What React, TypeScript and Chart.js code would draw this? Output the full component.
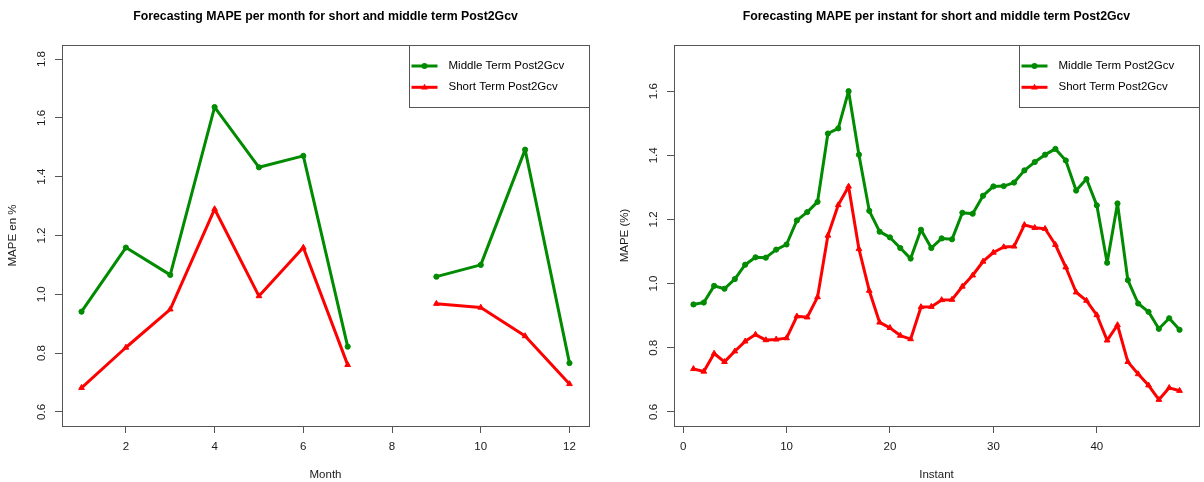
import React, { useEffect, useRef } from "react";
import { Chart, registerables } from "chart.js";

Chart.register(...registerables);

// ---------- data ----------
const months = [1, 2, 3, 4, 5, 6, 7, 8, 9, 10, 11, 12];
const monthMiddle = [0.941, 1.159, 1.066, 1.637, 1.432, 1.471, 0.822, null, 1.06, 1.1, 1.492, 0.766];
const monthShort = [0.682, 0.819, 0.949, 1.29, 0.994, 1.159, 0.76, null, 0.968, 0.955, 0.858, 0.695];
const monthXTicks = [2, 4, 6, 8, 10, 12];
const monthYTicks = [0.6, 0.8, 1.0, 1.2, 1.4, 1.6, 1.8];
const monthXRange = [0.56, 12.44];
const monthYRange = [0.552, 1.848];

const instants = [
  1, 2, 3, 4, 5, 6, 7, 8, 9, 10, 11, 12, 13, 14, 15, 16, 17, 18, 19, 20, 21, 22, 23, 24,
  25, 26, 27, 28, 29, 30, 31, 32, 33, 34, 35, 36, 37, 38, 39, 40, 41, 42, 43, 44, 45, 46, 47, 48,
];
const instantMiddle = [
  0.935, 0.941, 0.993, 0.984, 1.014, 1.059, 1.082, 1.081, 1.106, 1.122,
  1.197, 1.223, 1.255, 1.468, 1.484, 1.6, 1.402, 1.227, 1.162, 1.144,
  1.111, 1.078, 1.168, 1.111, 1.141, 1.138, 1.221, 1.218, 1.274, 1.303,
  1.304, 1.315, 1.353, 1.379, 1.402, 1.42, 1.384, 1.29, 1.326, 1.244,
  1.065, 1.25, 1.011, 0.938, 0.912, 0.859, 0.892, 0.856,
];
const instantShort = [
  0.734, 0.726, 0.782, 0.756, 0.789, 0.82, 0.841, 0.824, 0.826, 0.83,
  0.898, 0.895, 0.958, 1.15, 1.245, 1.303, 1.108, 0.978, 0.879, 0.862,
  0.838, 0.827, 0.927, 0.928, 0.949, 0.95, 0.991, 1.026, 1.069, 1.097,
  1.114, 1.116, 1.183, 1.174, 1.171, 1.121, 1.051, 0.973, 0.947, 0.902,
  0.823, 0.871, 0.756, 0.718, 0.683, 0.638, 0.675, 0.666,
];
const instantXTicks = [0, 10, 20, 30, 40];
const instantYTicks = [0.6, 0.8, 1.0, 1.2, 1.4, 1.6];
const instantXRange = [-0.88, 49.88];
const instantYRange = [0.556, 1.744];

const seriesLabels = ["Middle Term Post2Gcv", "Short Term Post2Gcv"];
const seriesColors = ["#008b00", "#ff0000"];

// ---------- styling ----------
const FONT = "'Liberation Sans', Arial, Helvetica, sans-serif";
const AXIS = "#555555";
const TEXT = "#1a1a1a";

const boxPlugin = {
  id: "rBox",
  afterDraw(chart: any) {
    const { ctx, chartArea: a } = chart;
    ctx.save();
    ctx.strokeStyle = AXIS;
    ctx.lineWidth = 1;
    ctx.strokeRect(Math.round(a.left) + 0.5, Math.round(a.top) + 0.5, Math.round(a.right - a.left), Math.round(a.bottom - a.top));
    ctx.restore();
  },
};

const titlePlugin = {
  id: "rTitle",
  afterDraw(chart: any, _args: any, opts: any) {
    const { ctx, chartArea: a } = chart;
    ctx.save();
    ctx.fillStyle = "#000";
    ctx.font = `bold 12.3px ${FONT}`;
    ctx.textAlign = "center";
    ctx.textBaseline = "middle";
    ctx.fillText(opts.text, (a.left + a.right) / 2, 17);
    ctx.restore();
  },
};

const legendPlugin = {
  id: "rLegend",
  afterDraw(chart: any) {
    const { ctx, chartArea: a } = chart;
    const w = 180;
    const h = 62;
    const x0 = Math.round(a.right - w);
    const y0 = Math.round(a.top);
    ctx.save();
    ctx.fillStyle = "#fff";
    ctx.fillRect(x0, y0, w, h);
    ctx.strokeStyle = AXIS;
    ctx.lineWidth = 1;
    ctx.strokeRect(x0 + 0.5, y0 + 0.5, w, h);
    chart.data.datasets.forEach((ds: any, i: number) => {
      const yc = y0 + 21 + i * 21.3;
      ctx.strokeStyle = ds.borderColor;
      ctx.fillStyle = ds.borderColor;
      ctx.lineWidth = 3;
      ctx.beginPath();
      ctx.moveTo(x0 + 2.5, yc);
      ctx.lineTo(x0 + 28.5, yc);
      ctx.stroke();
      const cx = x0 + 15.5;
      ctx.beginPath();
      if (ds.pointStyle === "triangle") {
        const r = 3.5;
        ctx.moveTo(cx, yc - r);
        ctx.lineTo(cx + r * 0.95, yc + r * 0.6);
        ctx.lineTo(cx - r * 0.95, yc + r * 0.6);
        ctx.closePath();
      } else {
        ctx.arc(cx, yc, 3, 0, Math.PI * 2);
      }
      ctx.fill();
      ctx.fillStyle = "#000";
      ctx.font = `11.5px ${FONT}`;
      ctx.textAlign = "left";
      ctx.textBaseline = "middle";
      ctx.fillText(ds.label, x0 + 39.5, yc);
    });
    ctx.restore();
  },
};

function makeConfig(p: {
  xs: number[];
  mid: (number | null)[];
  short: (number | null)[];
  xRange: number[];
  yRange: number[];
  xTicks: number[];
  yTicks: number[];
  title: string;
  xTitle: string;
  yTitle: string;
  yWidth: number;
  rightPad: number;
  yTitlePad: number;
}): any {
  const pts = (vals: (number | null)[]) => p.xs.map((x, i) => ({ x, y: vals[i] }));
  return {
    type: "line",
    data: {
      datasets: [
        {
          label: seriesLabels[0],
          data: pts(p.mid),
          borderColor: seriesColors[0],
          backgroundColor: seriesColors[0],
          borderWidth: 3,
          borderJoinStyle: "round",
          borderCapStyle: "round",
          pointStyle: "circle",
          pointRadius: 2.6,
          pointBorderWidth: 1,
          pointBackgroundColor: seriesColors[0],
          pointBorderColor: seriesColors[0],
          spanGaps: false,
          tension: 0,
        },
        {
          label: seriesLabels[1],
          data: pts(p.short),
          borderColor: seriesColors[1],
          backgroundColor: seriesColors[1],
          borderWidth: 3,
          borderJoinStyle: "round",
          borderCapStyle: "round",
          pointStyle: "triangle",
          pointRadius: 3.3,
          pointBorderWidth: 1,
          pointBackgroundColor: seriesColors[1],
          pointBorderColor: seriesColors[1],
          spanGaps: false,
          tension: 0,
        },
      ],
    },
    options: {
      responsive: false,
      animation: false,
      devicePixelRatio: 1,
      layout: { padding: { left: 0, right: p.rightPad, top: 45, bottom: 0 } },
      plugins: {
        legend: { display: false },
        tooltip: { enabled: false },
        title: { display: false },
        rTitle: { text: p.title },
      },
      scales: {
        x: {
          type: "linear",
          min: p.xRange[0],
          max: p.xRange[1],
          afterBuildTicks: (axis: any) => {
            axis.ticks = p.xTicks.map((v) => ({ value: v }));
          },
          afterFit: (axis: any) => {
            axis.height = 56;
          },
          grid: { drawOnChartArea: false, drawTicks: true, tickLength: 7, color: AXIS, lineWidth: 1 },
          border: { display: true, color: AXIS, width: 1 },
          ticks: {
            color: TEXT,
            font: { family: FONT, size: 11.5 },
            padding: 7,
            maxRotation: 0,
            minRotation: 0,
            autoSkip: false,
            callback: (v: any) => String(v),
          },
          title: {
            display: true,
            text: p.xTitle,
            color: TEXT,
            font: { family: FONT, size: 11.5 },
            padding: { top: 0, bottom: 0 },
          },
        },
        y: {
          type: "linear",
          min: p.yRange[0],
          max: p.yRange[1],
          afterBuildTicks: (axis: any) => {
            axis.ticks = p.yTicks.map((v) => ({ value: v }));
          },
          afterFit: (axis: any) => {
            axis.width = p.yWidth;
          },
          grid: { drawOnChartArea: false, drawTicks: true, tickLength: 7, color: AXIS, lineWidth: 1 },
          border: { display: true, color: AXIS, width: 1 },
          ticks: {
            color: TEXT,
            font: { family: FONT, size: 11.5 },
            padding: 5,
            minRotation: 90,
            maxRotation: 90,
            crossAlign: "center",
            autoSkip: false,
            callback: (v: any) => Number(v).toFixed(1),
          },
          title: {
            display: true,
            text: p.yTitle,
            color: TEXT,
            font: { family: FONT, size: 11.5 },
            padding: { top: p.yTitlePad, bottom: 0 },
          },
        },
      },
    },
    plugins: [boxPlugin, titlePlugin, legendPlugin],
  };
}

function RChart({ config, left }: { config: any; left: number }) {
  const ref = useRef<HTMLCanvasElement | null>(null);
  useEffect(() => {
    if (!ref.current) return;
    const chart = new Chart(ref.current, config);
    return () => chart.destroy();
  }, []);
  return (
    <canvas
      ref={ref}
      width={602}
      height={482}
      style={{ position: "absolute", left, top: 0, width: 602, height: 482, display: "block" }}
    />
  );
}

export default function App() {
  const monthConfig = makeConfig({
    xs: months,
    mid: monthMiddle,
    short: monthShort,
    xRange: monthXRange,
    yRange: monthYRange,
    xTicks: monthXTicks,
    yTicks: monthYTicks,
    title: "Forecasting MAPE per month for short and middle term Post2Gcv",
    xTitle: "Month",
    yTitle: "MAPE en %",
    yWidth: 62,
    rightPad: 13,
    yTitlePad: 6,
  });
  const instantConfig = makeConfig({
    xs: instants,
    mid: instantMiddle,
    short: instantShort,
    xRange: instantXRange,
    yRange: instantYRange,
    xTicks: instantXTicks,
    yTicks: instantYTicks,
    title: "Forecasting MAPE per instant for short and middle term Post2Gcv",
    xTitle: "Instant",
    yTitle: "MAPE (%)",
    yWidth: 72,
    rightPad: 2,
    yTitlePad: 16,
  });
  return (
    <div style={{ position: "fixed", left: 0, top: 0, width: 1204, height: 482, background: "#fff", overflow: "hidden" }}>
      <RChart config={monthConfig} left={0} />
      <RChart config={instantConfig} left={602} />
    </div>
  );
}
